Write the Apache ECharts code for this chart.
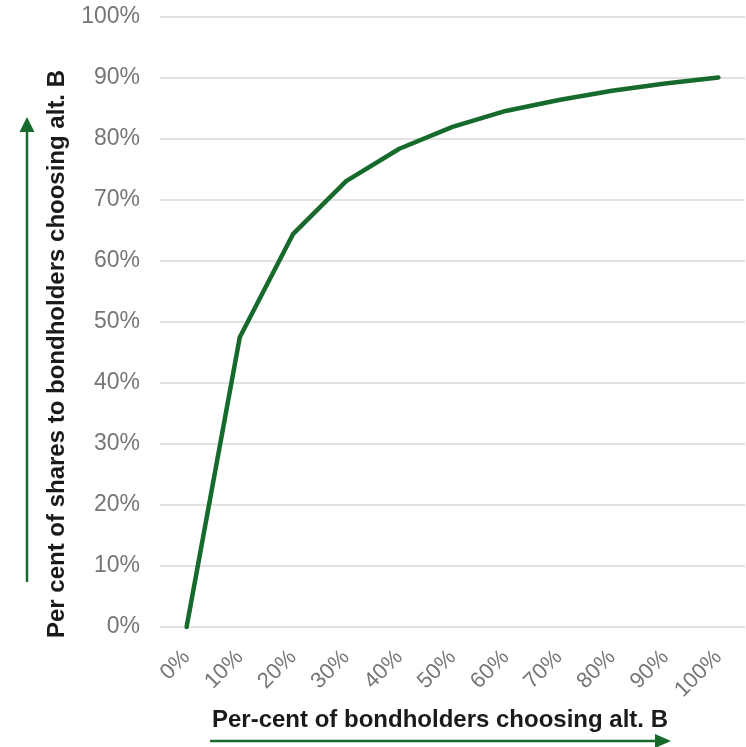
<!DOCTYPE html>
<html>
<head>
<meta charset="utf-8">
<script src="https://cdn.jsdelivr.net/npm/echarts@6/dist/echarts.min.js"></script>
<style>
html,body{margin:0;padding:0;background:#fff;}
#chart{width:746px;height:747px;}
</style>
</head>
<body>
<div id="chart"></div>
<script>
var categories = ['0%','10%','20%','30%','40%','50%','60%','70%','80%','90%','100%'];
var shareValues = [0, 47.5, 64.4, 73.1, 78.4, 82.0, 84.6, 86.4, 87.9, 89.1, 90.1];
var yTicks = [0, 10, 20, 30, 40, 50, 60, 70, 80, 90, 100];
var xName = 'Per-cent of bondholders choosing alt. B';
var yName = 'Per cent of shares to bondholders choosing alt. B';

var green = '#156a2c';
var chart = echarts.init(document.getElementById('chart'));
chart.setOption({
  animation: false,
  grid: {left: 160, right: 1, top: 17, bottom: 120, containLabel: false},
  xAxis: {
    type: 'category',
    data: categories,
    boundaryGap: true,
    name: xName,
    nameLocation: 'middle',
    nameGap: 79,
    nameTextStyle: {fontFamily: 'Liberation Sans, Arial, sans-serif', fontWeight: 'bold', fontSize: 24, color: '#1a1a1a', padding: [0, 25, 0, 0]},
    axisLine: {show: false},
    axisTick: {show: false},
    axisLabel: {rotate: 45, margin: 27, color: '#767676', fontSize: 22, fontFamily: 'Liberation Sans, Arial, sans-serif', interval: 0},
    splitLine: {show: false}
  },
  yAxis: {
    type: 'value',
    min: yTicks[0],
    max: yTicks[yTicks.length - 1],
    interval: 10,
    name: yName,
    nameLocation: 'middle',
    nameGap: 91,
    nameRotate: 90,
    nameTextStyle: {fontFamily: 'Liberation Sans, Arial, sans-serif', fontWeight: 'bold', fontSize: 24, color: '#1a1a1a', padding: [0, 64, 0, 0]},
    axisLine: {show: false},
    axisTick: {show: false},
    axisLabel: {formatter: '{value}%', margin: 20, color: '#767676', fontSize: 23, fontFamily: 'Liberation Sans, Arial, sans-serif'},
    splitLine: {show: true, lineStyle: {color: '#d9d9d9', width: 1.5}}
  },
  series: [{
    type: 'line',
    data: shareValues,
    showSymbol: false,
    symbol: 'none',
    lineStyle: {color: green, width: 4.5, cap: 'round', join: 'round'},
    itemStyle: {color: green}
  }],
  graphic: [
    {type: 'line', shape: {x1: 27, y1: 582, x2: 27, y2: 130}, style: {stroke: green, lineWidth: 2.5}},
    {type: 'polygon', shape: {points: [[27, 117], [19.5, 132], [34.5, 132]]}, style: {fill: green}},
    {type: 'line', shape: {x1: 210, y1: 741, x2: 657, y2: 741}, style: {stroke: green, lineWidth: 2.5}},
    {type: 'polygon', shape: {points: [[671, 741], [655, 734], [655, 748]]}, style: {fill: green}}
  ]
});
</script>
</body>
</html>
